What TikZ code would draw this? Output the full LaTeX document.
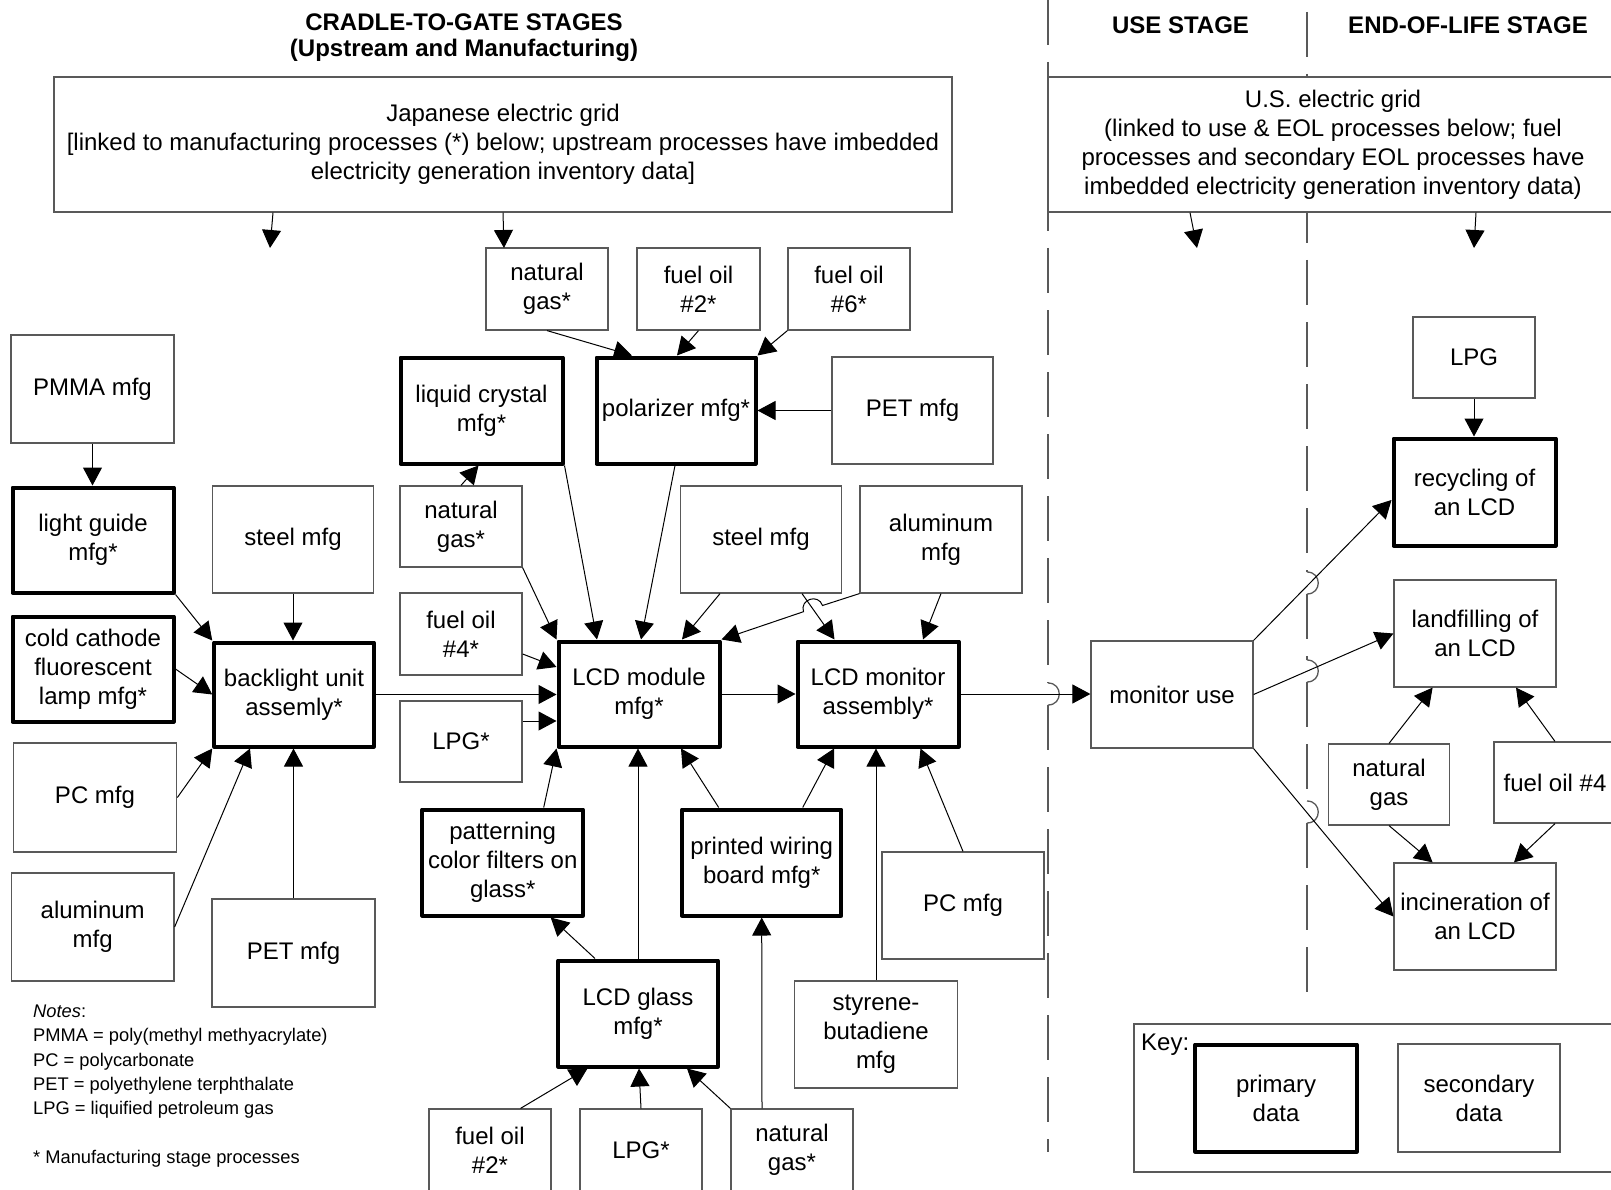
\documentclass[tikz,border=0pt]{standalone}
\usepackage{fontspec}
\setmainfont{Liberation Sans}
\usetikzlibrary{arrows.meta,calc}
\begin{document}
\begin{tikzpicture}[x=1pt,y=-1pt,
  sz/.style 2 args={minimum width=#1pt, minimum height=#2pt},
  box/.style={draw=black!65, line width=1.2pt, fill=white, rectangle, align=center, inner sep=1pt, font=\fontsize{24}{29}\selectfont, text=black},
  pbox/.style={box, draw=black, line width=4pt, line join=round},
  arr/.style={draw=black, line width=1pt, -{Triangle[length=18pt,width=19pt]}},
  div/.style={draw=black!65, line width=1.3pt, dash pattern=on 45pt off 17pt},
  hop/.style={draw=black!65, line width=1.3pt},
  titl/.style={font=\fontsize{24}{29}\selectfont\bfseries, inner sep=0pt},
  plain/.style={font=\fontsize{24}{29}\selectfont, inner sep=0pt}
]
\useasboundingbox (0,0) rectangle (1611,1190);
\fill[white] (0,0) rectangle (1611,1190);

% stage dividers
\draw[div] (1048,0) -- (1048,683);
\draw[hop] (1048,683) .. controls (1063,683) and (1063,705) .. (1048,705);
\draw[div] (1048,705) -- (1048,1152);
\draw[div] (1307,12) -- (1307,572);
\draw[hop] (1307,572) .. controls (1322,572) and (1322,594) .. (1307,594);
\draw[div] (1307,594) -- (1307,660);
\draw[hop] (1307,660) .. controls (1322,660) and (1322,682) .. (1307,682);
\draw[div] (1307,682) -- (1307,801);
\draw[hop] (1307,801) .. controls (1322,801) and (1322,823) .. (1307,823);
\draw[div] (1307,823) -- (1307,992);

% titles
\node[titl] (t1) at (464,22) {CRADLE-TO-GATE STAGES};
\node[titl] (t2) at (464,50.5) {(Upstream and Manufacturing)};
\node[titl] (t3) at (1180.5,25.7) {USE STAGE};
\node[titl] (t4) at (1468,25.7) {END-OF-LIFE STAGE};

% grids
\node[box,sz={898}{135}] (jgrid) at (503,144.5) {Japanese electric grid\\{[}linked to manufacturing processes (*) below; upstream processes have imbedded\\electricity generation inventory data{]}};
\node[box,sz={570}{135}] (usgrid) at (1333,144.5) {U.S. electric grid\\(linked to use \& EOL processes below; fuel\\processes and secondary EOL processes have\\imbedded electricity generation inventory data)};

% secondary boxes
\node[box,sz={163}{108}] (PMMA) at (92.5,389) {PMMA mfg};
\node[box,sz={161.5}{107}] (stL) at (293,539.5) {steel mfg};
\node[box,sz={163.5}{109}] (PCL) at (95,797.5) {PC mfg};
\node[box,sz={162.6}{108}] (alL) at (92.7,927) {aluminum\\mfg};
\node[box,sz={163}{108}] (PETL) at (293.5,953) {PET mfg};
\node[box,sz={122}{82}] (ngT) at (547,289) {natural\\gas*};
\node[box,sz={123}{82}] (fo2T) at (698.5,289) {fuel oil\\\#2*};
\node[box,sz={122}{82}] (fo6T) at (849,289) {fuel oil\\\#6*};
\node[box,sz={161}{107}] (PETT) at (912.5,410.5) {PET mfg};
\node[box,sz={122}{81}] (ngM) at (461,526.5) {natural\\gas*};
\node[box,sz={122}{82}] (fo4M) at (461,634) {fuel oil\\\#4*};
\node[box,sz={122}{81}] (LPGM) at (461,741.5) {LPG*};
\node[box,sz={161.5}{107}] (stM) at (761,539.5) {steel mfg};
\node[box,sz={162}{107}] (alM) at (941,539.5) {aluminum\\mfg};
\node[box,sz={162}{107}] (PCR) at (963,905.5) {PC mfg};
\node[box,sz={162.6}{107}] (sty) at (876,1034.5) {styrene-\\butadiene\\mfg};
\node[box,sz={122}{82}] (fo2B) at (490,1150) {fuel oil\\\#2*};
\node[box,sz={122}{82}] (LPGB) at (641,1150) {LPG*};
\node[box,sz={122}{82}] (ngB) at (792,1150) {natural\\gas*};
\node[box,sz={162}{107}] (use) at (1172,694.5) {monitor use};
\node[box,sz={122}{81}] (LPGR) at (1474,357.5) {LPG};
\node[box,sz={162}{107}] (land) at (1475,633.5) {landfilling of\\an LCD};
\node[box,sz={121.5}{81}] (ngR) at (1389,784.5) {natural\\gas};
\node[box,sz={122}{81}] (fo4R) at (1555,782.5) {fuel oil \#4};
\node[box,sz={162}{107}] (inc) at (1475,916.5) {incineration of\\an LCD};

% primary boxes
\node[pbox,sz={161}{105}] (lg) at (93,540) {light guide\\mfg*};
\node[pbox,sz={161}{105}] (ccfl) at (93,669) {cold cathode\\fluorescent\\lamp mfg*};
\node[pbox,sz={159.5}{104}] (blu) at (294,694.5) {backlight unit\\assemly*};
\node[pbox,sz={162}{106}] (lc) at (481.5,410.5) {liquid crystal\\mfg*};
\node[pbox,sz={159}{106}] (pol) at (676,410.5) {polarizer mfg*};
\node[pbox,sz={161}{105}] (mod) at (639,694) {LCD module\\mfg*};
\node[pbox,sz={161}{105}] (mon) at (878,694) {LCD monitor\\assembly*};
\node[pbox,sz={160.5}{106}] (pat) at (502.7,862.5) {patterning\\color filters on\\glass*};
\node[pbox,sz={159.5}{106}] (pwb) at (761.7,862.5) {printed wiring\\board mfg*};
\node[pbox,sz={159.5}{106}] (gl) at (638,1013.5) {LCD glass\\mfg*};
\node[pbox,sz={162}{107}] (rec) at (1474.5,492) {recycling of\\an LCD};

% key
\node[box,sz={496}{148}] (key) at (1382,1098) {};
\node[plain,anchor=west] (keylbl) at (1141,1045) {Key:};
\node[pbox,sz={161.5}{107}] (prim) at (1276,1098) {primary\\data};
\node[box,sz={162}{108}] (sec) at (1479,1098) {secondary\\data};

% notes
\node[anchor=west, align=left, inner sep=0pt, font=\fontsize{18.3}{24.3}\selectfont] (notes) at (33,1086)
  {\textit{Notes}:\\PMMA = poly(methyl methyacrylate)\\PC = polycarbonate\\PET = polyethylene terphthalate\\LPG = liquified petroleum gas\\[24.3pt]* Manufacturing stage processes};

% free ends of grid arrows
\coordinate (j1) at (270,248);
\coordinate (j2) at (504,248);
\coordinate (u1) at (1197,248);
\coordinate (u2) at (1474,248);
% hop on aluminum -> LCD module line
\coordinate (ah1) at (822.5,605.5);
\coordinate (ah1c) at (818.4,593.2);
\coordinate (ah2c) at (799.4,599.4);
\coordinate (ah2) at (803.5,611.7);

% connectors
\draw[arr] ([xshift=-230pt]jgrid.south) -- (j1);
\draw[arr] (jgrid.south) -- (j2);
\draw[arr] ([xshift=-143pt]usgrid.south) -- (u1);
\draw[arr] ([xshift=143pt]usgrid.south) -- (u2);

\draw[arr] (ngT.south) -- ([xshift=-44pt]pol.north);
\draw[arr] (fo2T.south) -- ([xshift=1pt]pol.north);
\draw[arr] (fo6T.south west) -- (pol.north east);
\draw[arr] (PETT.west) -- (pol.east);
\draw[arr] (ngM.north) -- ([xshift=-3pt]lc.south);
\draw[arr] (lc.south east) -- ([xshift=-42pt]mod.north);
\draw[arr] ([xshift=-1pt]pol.south) -- ([xshift=2pt]mod.north);
\draw[arr] (ngM.south east) -- (mod.north west);
\draw[arr] ([yshift=-20pt]fo4M.east) -- ([yshift=27pt]mod.west);
\draw[arr] (blu.east) -- (blu.east -| mod.west);
\draw[arr] ([yshift=20.5pt]LPGM.east) -- ([yshift=-27pt]mod.west);
\draw[arr] ([xshift=-41pt]stM.south) -- ([xshift=43pt]mod.north);
\draw[arr] (alM.south west) -- (ah1) .. controls (ah1c) and (ah2c) .. (ah2) -- (mod.north east);
\draw[arr] ([xshift=41pt]stM.south) -- ([xshift=-43.5pt]mon.north);
\draw[arr] (alM.south) -- ([xshift=45pt]mon.north);
\draw[arr] (mod.east) -- (mon.west);
\draw[arr] (mon.east) -- (mon.east -| use.west);

\draw[arr] (lg.south east) -- (blu.north west);
\draw[arr] (stL.south) -- (stL.south |- blu.north);
\draw[arr] (PMMA.south) -- (PMMA.south |- lg.north);
\draw[arr] (ccfl.east) -- (blu.west);
\draw[arr] (PCL.east) -- (blu.south west);
\draw[arr] (alL.east) -- ([xshift=-44pt]blu.south);
\draw[arr] (PETL.north) -- (PETL.north |- blu.south);

\draw[arr] ([xshift=41pt]pat.north) -- (mod.south west);
\draw[arr] (gl.north) -- (gl.north |- mod.south);
\draw[arr] ([xshift=-43pt]pwb.north) -- ([xshift=42pt]mod.south);
\draw[arr] ([xshift=41pt]pwb.north) -- ([xshift=-44pt]mon.south);
\draw[arr] (sty.north) -- (sty.north |- mon.south);
\draw[arr] (PCR.north) -- ([xshift=42.5pt]mon.south);
\draw[arr] ([xshift=-43pt]gl.north) -- ([xshift=48pt]pat.south);
\draw[arr] ([xshift=-30pt]ngB.north) -- (pwb.south);
\draw[arr] ([xshift=30.5pt]fo2B.north) -- ([xshift=-50.5pt]gl.south);
\draw[arr] (LPGB.north) -- ([xshift=1pt]gl.south);
\draw[arr] (ngB.north west) -- ([xshift=49pt]gl.south);

\draw[arr] (use.north east) -- ([yshift=-8pt]rec.west);
\draw[arr] (use.east) -- (land.west);
\draw[arr] (use.south east) -- (inc.west);
\draw[arr] (LPGR.south) -- (LPGR.south |- rec.north);
\draw[arr] (ngR.north) -- ([xshift=-42.4pt]land.south);
\draw[arr] (fo4R.north) -- ([xshift=41pt]land.south);
\draw[arr] (ngR.south) -- ([xshift=-42.4pt]inc.north);
\draw[arr] (fo4R.south) -- ([xshift=39pt]inc.north);
\end{tikzpicture}
\end{document}
